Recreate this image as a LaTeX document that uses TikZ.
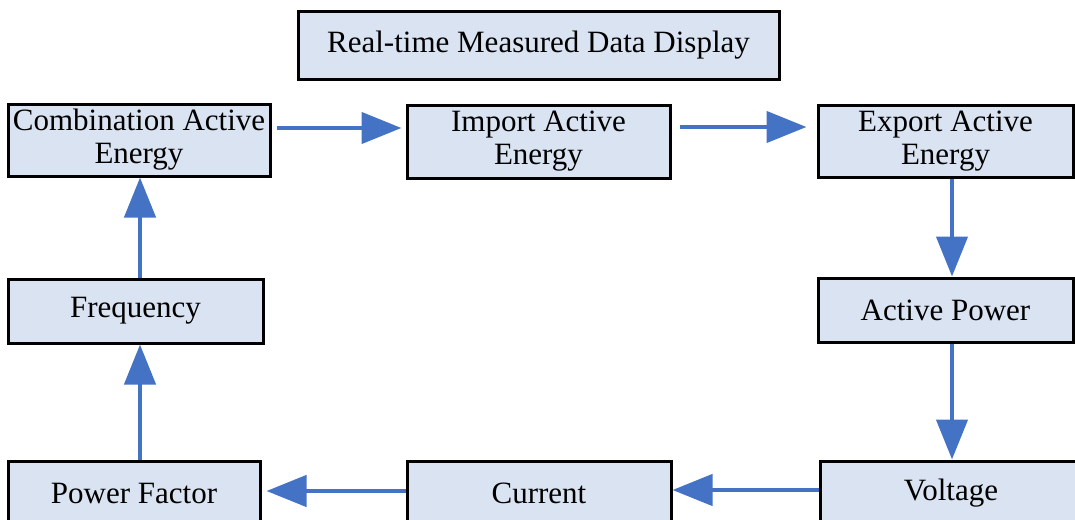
\documentclass[tikz,border=0pt]{standalone}
\usepackage{fontspec}
\setmainfont{Liberation Serif}
\usetikzlibrary{arrows.meta}
\definecolor{boxfill}{HTML}{DAE3F1}
\definecolor{arrowblue}{HTML}{4472C4}
\tikzset{
  box/.style={draw=black, line width=3pt, fill=boxfill, inner sep=0pt, align=center,
    font=\fontsize{31}{33}\selectfont},
  flow/.style={draw=arrowblue, line width=4.5pt, -{Triangle[length=40pt,width=31pt]}}
}
\begin{document}
\begin{tikzpicture}[x=1pt,y=-1pt]
\useasboundingbox (0,0) rectangle (1075,519);
\clip (0,0) rectangle (1075,519);
\node[box, minimum width=481pt, minimum height=67pt] (title) at (538.5,45.5) {Real-time Measured Data Display};
\node[box, minimum width=262pt, minimum height=72pt] (comb) at (139,140) {Combination Active\\Energy};
\node[box, minimum width=263pt, minimum height=73pt] (import) at (538.5,141.5) {Import Active\\Energy};
\node[box, minimum width=255pt, minimum height=72pt] (export) at (945.5,141) {Export Active\\Energy};
\node[box, minimum width=255pt, minimum height=64pt] (active) at (945.5,310) {Active Power};
\node[box, minimum width=255pt, minimum height=64pt] (freq) at (135.5,311) {Frequency};
\node[box, minimum width=252pt, minimum height=64pt] (pf) at (134,493) {Power Factor};
\node[box, minimum width=264pt, minimum height=64pt] (current) at (539,493) {Current};
\node[box, minimum width=262pt, minimum height=64pt] (voltage) at (951,493) {Voltage};

\draw[flow] ([xshift=5pt,yshift=12pt]comb.east) -- ([xshift=-4pt,yshift=13.5pt]import.west);
\draw[flow] ([xshift=8pt,yshift=14.5pt]import.east) -- ([xshift=-10pt,yshift=14pt]export.west);
\draw[flow] ([xshift=6.5pt]export.south) -- ([xshift=6.5pt]active.north);
\draw[flow] ([xshift=6.5pt]active.south) -- ([xshift=1pt]voltage.north);
\draw[flow] ([yshift=3pt]voltage.west) -- ([yshift=3pt]current.east);
\draw[flow] ([yshift=2pt]current.west) -- ([xshift=5pt,yshift=2pt]pf.east);
\draw[flow] ([xshift=6pt]pf.north) -- ([xshift=4.5pt]freq.south);
\draw[flow] ([xshift=4.5pt]freq.north) -- ([xshift=1pt]comb.south);
\end{tikzpicture}
\end{document}
